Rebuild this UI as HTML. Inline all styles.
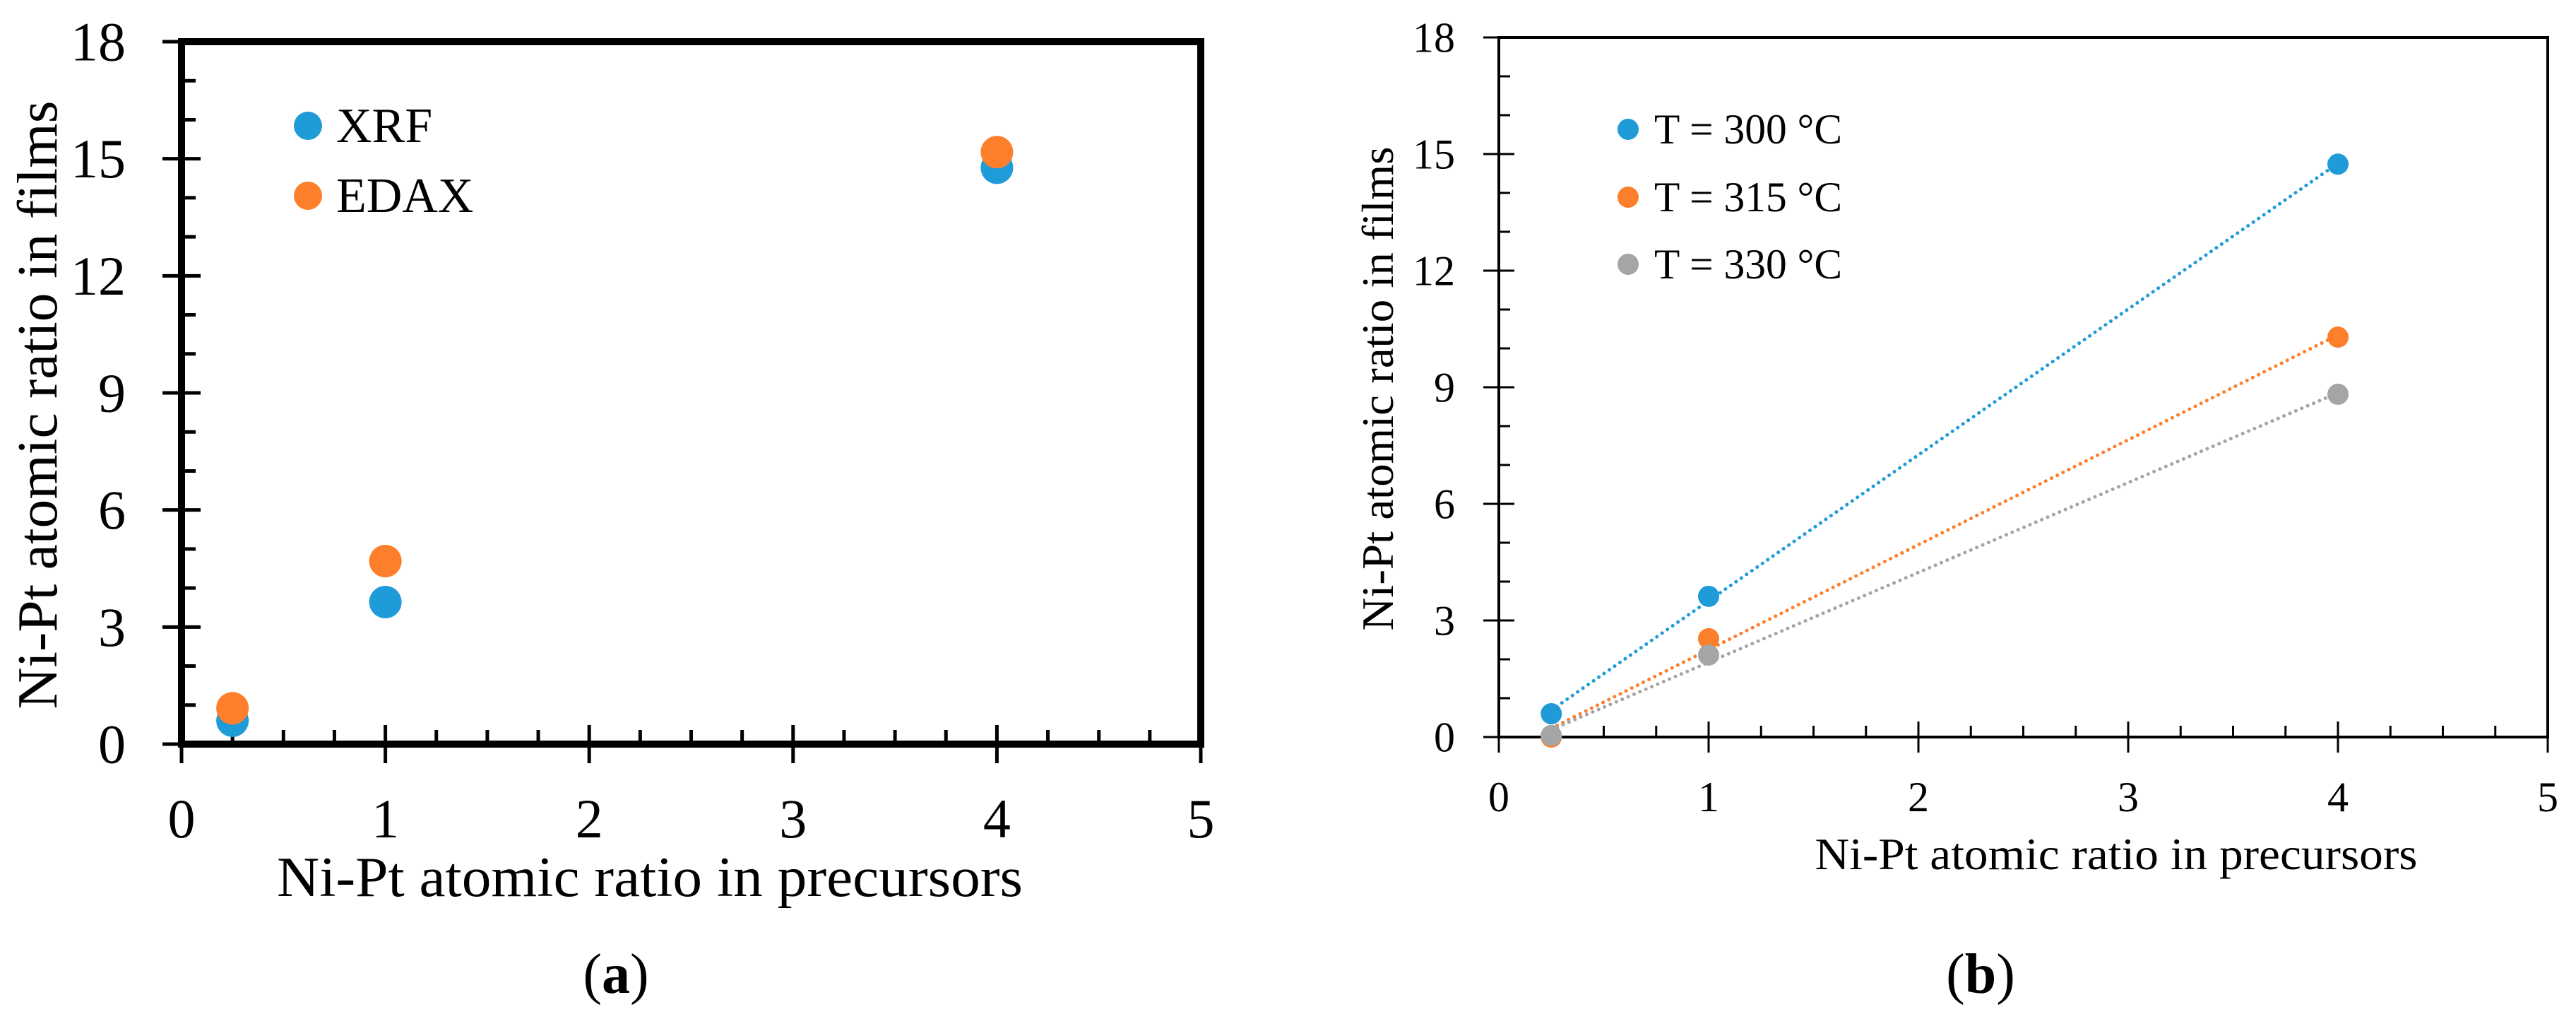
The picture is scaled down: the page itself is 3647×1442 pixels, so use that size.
<!DOCTYPE html>
<html><head><meta charset="utf-8"><style>
html,body{margin:0;padding:0;background:#fff;}
svg{display:block;font-family:"Liberation Serif","DejaVu Serif",serif;}
</style></head><body>
<svg id="fig" width="3647" height="1442" viewBox="0 0 3647 1442" xmlns="http://www.w3.org/2000/svg">
<rect width="3647" height="1442" fill="#fff"/>
<g id="pa"></g>
<g id="pb"></g>
</svg>
<script>
const xTicks = [0,1,2,3,4,5];
const yTicks = [0,3,6,9,12,15,18];
const xA = [0.25, 1, 4];
const xrfVals = [0.6, 3.64, 14.77];
const edaxVals = [0.92, 4.69, 15.17];
const xB = [0.25, 1, 4];
const t300Vals = [0.6, 3.62, 14.74];
const t315Vals = [0.0, 2.53, 10.29];
const t330Vals = [0.04, 2.11, 8.82];
const legendA = ["XRF","EDAX"];
const legendB = ["T = 300 °C","T = 315 °C","T = 330 °C"];

const NS="http://www.w3.org/2000/svg";
function mk(parent, tag, attrs){const e=document.createElementNS(NS,tag);for(const k in attrs)e.setAttribute(k,attrs[k]);parent.appendChild(e);return e;}
const BLUE="#1f9bd8", ORANGE="#fd7f2b", GRAY="#a5a5a5";

function panel(g, cfg){
  const sx=v=>cfg.x0+(v-0)*(cfg.x1-cfg.x0)/5;
  const sy=v=>cfg.y0-(v-0)*(cfg.y0-cfg.y1)/18;
  // minor y ticks
  for(let v=0; v<=18; v++){
    const major = v%3===0;
    const t = mk(g,'line',{x1: major?cfg.x0-cfg.majOut:cfg.x0, x2: cfg.x0+(major?cfg.majIn:cfg.minIn), y1: sy(v), y2: sy(v), stroke:'#000','stroke-width':cfg.tw});
    
    
  }
  for(let i=0;i<=20;i++){
    const v=i*0.25, major=i%4===0;
    const t = mk(g,'line',{x1:sx(v),x2:sx(v),y1:cfg.y0-(major?cfg.majIn:cfg.minIn),y2:major?cfg.y0+cfg.majOut:cfg.y0,stroke:'#000','stroke-width':cfg.tw});
    
    
  }
  const fr = mk(g,'rect',{x:cfg.x0,y:cfg.y1,width:cfg.x1-cfg.x0,height:cfg.y0-cfg.y1,fill:'none',stroke:'#000','stroke-width':cfg.aw});
  
  
  yTicks.forEach(v=>{
    const t=mk(g,'text',{x:cfg.ylabR,y:sy(v)+cfg.tf*0.34,'text-anchor':'end','font-size':cfg.tf});
    t.textContent=v;
    
    
  });
  xTicks.forEach(v=>{
    const t=mk(g,'text',{x:sx(v),y:cfg.xlabY,'text-anchor':'middle','font-size':cfg.tf});
    t.textContent=v;
    
    
  });
  const xt=mk(g,'text',{x:cfg.xtX,y:cfg.xtY,'text-anchor':'middle','font-size':cfg.titF,textLength:cfg.xtL,lengthAdjust:'spacingAndGlyphs'});
  xt.textContent='Ni-Pt atomic ratio in precursors';
  
  
  const yt=mk(g,'text',{x:0,y:0,'text-anchor':'middle','font-size':cfg.titF,textLength:cfg.ytL,lengthAdjust:'spacingAndGlyphs',transform:`translate(${cfg.ytX},${cfg.ytY}) rotate(-90)`});
  yt.textContent='Ni-Pt atomic ratio in films';
  
  
  const cap=mk(g,'text',{x:cfg.capX,y:1405,'text-anchor':'middle','font-size':80});
  const b=document.createElementNS(NS,'tspan');b.setAttribute('font-weight','bold');b.textContent=cfg.cap;
  cap.appendChild(document.createTextNode('('));cap.appendChild(b);cap.appendChild(document.createTextNode(')'));
  
  
  return {sx,sy};
}

// Panel A
const ga=document.getElementById('pa');
const A=panel(ga,{x0:257,x1:1700,y0:1053,y1:59,aw:10,tw:5,majOut:27,majIn:27,minIn:20,tf:78,ylabR:178,xlabY:1185,titF:80,xtX:920,xtY:1268,xtL:1056,ytX:80,ytY:573,ytL:861,capX:872,cap:'a'});
[[xrfVals,BLUE,'xrf-point'],[edaxVals,ORANGE,'edax-point']].forEach(([vals,col,nm])=>{
  vals.forEach((v,i)=>{
    const c=mk(ga,'circle',{cx:A.sx(xA[i]),cy:A.sy(v),r:23,fill:col});
    
    
  });
});
[[BLUE,178],[ORANGE,277]].forEach(([col,y],i)=>{
  const c=mk(ga,'circle',{cx:436,cy:y,r:20,fill:col});
  
  
  const t=mk(ga,'text',{x:476,y:y+23,'font-size':70});
  t.textContent=legendA[i];
  
  
});

// Panel B
const gb=document.getElementById('pb');
const B=panel(gb,{x0:2122,x1:3607,y0:1043,y1:53,aw:4,tw:3,majOut:22,majIn:22,minIn:16,tf:60,ylabR:2060,xlabY:1148,titF:63,xtX:2996,xtY:1230,xtL:853,ytX:1972,ytY:550,ytL:685,capX:2804,cap:'b'});
function fit(xs,ys){const n=xs.length;const mx=xs.reduce((a,b)=>a+b)/n,my=ys.reduce((a,b)=>a+b)/n;let num=0,den=0;for(let i=0;i<n;i++){num+=(xs[i]-mx)*(ys[i]-my);den+=(xs[i]-mx)**2;}const m=num/den;return [m,my-m*mx];}
[[t300Vals,BLUE,'t300'],[t315Vals,ORANGE,'t315'],[t330Vals,GRAY,'t330']].forEach(([vals,col,nm])=>{
  const [m,c0]=fit(xB,vals);
  const xa=xB[0], xe=xB[xB.length-1];
  const l=mk(gb,'line',{x1:B.sx(xa),y1:B.sy(m*xa+c0),x2:B.sx(xe),y2:B.sy(m*xe+c0),stroke:col,'stroke-width':5,'stroke-dasharray':'0.1 9','stroke-linecap':'round'});
  
  
});
[[t300Vals,BLUE,'t300'],[t315Vals,ORANGE,'t315'],[t330Vals,GRAY,'t330']].forEach(([vals,col,nm])=>{
  vals.forEach((v,i)=>{
    const c=mk(gb,'circle',{cx:B.sx(xB[i]),cy:B.sy(v),r:15,fill:col});
    
    
  });
});
[[BLUE,183],[ORANGE,279],[GRAY,374]].forEach(([col,y],i)=>{
  const c=mk(gb,'circle',{cx:2305,cy:y,r:15,fill:col});
  
  
  const t=mk(gb,'text',{x:2342,y:y+20,'font-size':60,textLength:266,lengthAdjust:'spacingAndGlyphs'});
  t.textContent=legendB[i];
  
  
});
</script>
</body></html>
